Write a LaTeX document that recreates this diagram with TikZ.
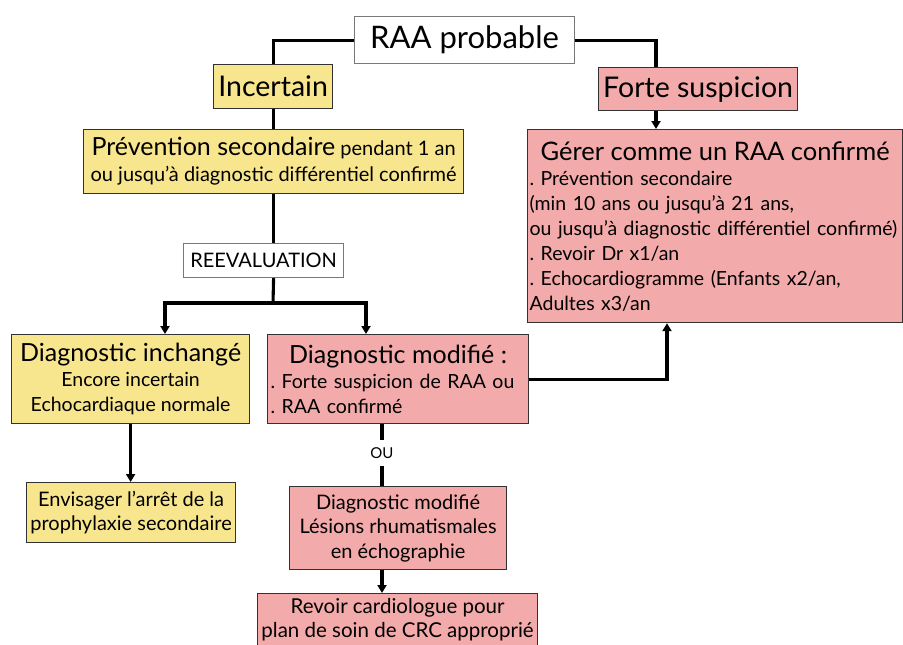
\documentclass[tikz,border=0pt]{standalone}
\usepackage{fontspec}
\setmainfont{Lato}
\usetikzlibrary{arrows.meta}
\definecolor{ylw}{RGB}{248,230,142}
\definecolor{pnk}{RGB}{243,170,170}
\definecolor{bordc}{RGB}{50,50,50}
\definecolor{wbord}{RGB}{120,120,120}
\newcommand\fsz[2]{\fontsize{#1}{#2}\selectfont}
\frenchspacing
\begin{document}
\begin{tikzpicture}[x=1pt,y=-1pt,
  box/.style={draw=bordc, line width=1.2pt, inner sep=0pt, anchor=north west, text=black},
  ybox/.style={box, fill=ylw},
  pbox/.style={box, fill=pnk},
  wbox/.style={box, fill=white, draw=wbord},
  conn/.style={line width=3.1pt, draw=black},
  arr/.style={conn, -{Triangle[length=8pt,width=9pt]}},
]
\useasboundingbox (0,0) rectangle (903,645);
\clip (0,0) rectangle (903,645);

\node[wbox, minimum width=220pt, minimum height=47pt, font=\fsz{31}{33}] (raa) at (354,16) {RAA probable};
\node[ybox, minimum width=119pt, minimum height=44pt, font=\fsz{28.5}{30}] (inc) at (213,64) {Incertain};
\node[pbox, minimum width=199pt, minimum height=43pt, font=\fsz{28.5}{30}] (forte) at (598,67) {Forte suspicion};
\node[ybox, minimum width=380pt, minimum height=64pt, align=center, font=\fsz{20}{26}] (prev) at (83,129)
  {{\fsz{25}{26}Prévention secondaire} pendant 1 an\\ou jusqu’à diagnostic différentiel confirmé};
\node[wbox, minimum width=160pt, minimum height=34pt, font=\fsz{20}{22}] (reev) at (183,243) {REEVALUATION};
\node[pbox, minimum width=375pt, minimum height=193pt, align=left, text width=371pt, inner xsep=2pt, font=\fsz{19.5}{25}] (gerer) at (527,129)
  {{\centering\fsz{25.5}{28}Gérer comme un RAA confirmé\par}
   . Prévention secondaire\\
   (min 10 ans ou jusqu’à 21 ans,\\
   ou jusqu’à diagnostic différentiel confirmé)\\
   . Revoir Dr x1/an\\
   . Echocardiogramme (Enfants x2/an,\\
   Adultes x3/an};
\node[ybox, minimum width=238pt, minimum height=89pt, align=center, font=\fsz{19.5}{25}] (inch) at (11,334)
  {{\fsz{25}{26}Diagnostic inchangé}\\Encore incertain\\Echocardiaque normale};
\node[pbox, minimum width=261pt, minimum height=89pt, align=left, text width=255pt, inner xsep=3pt, font=\fsz{19.5}{25}] (modi) at (267,334)
  {{\centering\fsz{25}{26}Diagnostic modifié :\par}
   . Forte suspicion de RAA ou\\
   . RAA confirmé};
\node[ybox, minimum width=209pt, minimum height=60pt, align=center, font=\fsz{20}{24}] (env) at (26,482)
  {Envisager l’arrêt de la\\prophylaxie secondaire};
\node[pbox, minimum width=217pt, minimum height=83pt, align=center, font=\fsz{20}{24.5}] (modi2) at (289,486)
  {Diagnostic modifié\\Lésions rhumatismales\\en échographie};
\node[pbox, minimum width=280pt, minimum height=62pt, align=center, text depth=14pt, font=\fsz{20.5}{24}] (revoir) at (257,593)
  {Revoir cardiologue pour\\plan de soin de CRC approprié};
\node[font=\fsz{15}{16}, inner sep=0pt, minimum height=26pt] (ou) at (382,453) {OU};

\coordinate (fx) at (656,0);
\coordinate (gx) at (667,0);
\coordinate (mx) at (382,0);
\coordinate (lx) at (165,0);
\coordinate (rx) at (366,0);
\coordinate (split) at (273,303);

\draw[conn] (raa.west) -| (inc.north);
\draw[conn] (raa.east) -| (forte.north -| fx);
\draw[arr] (forte.south -| fx) -- (gerer.north -| fx);
\draw[conn] (inc.south) -- (inc.south |- prev.north);
\draw[conn] (prev.south) -- (prev.south |- reev.north);
\draw[conn] (prev.south |- reev.south) -- (split);
\draw[arr] (split) -| (inch.north -| lx);
\draw[arr] (split) -| (modi.north -| rx);
\draw[arr] (inch.south) -- (inch.south |- env.north);
\draw[arr] (modi.east) -| (gerer.south -| gx);
\draw[conn] (modi.south -| mx) -- (ou.north);
\draw[conn] (ou.south) -- (modi2.north -| mx);
\draw[arr] (modi2.south -| mx) -- (revoir.north -| mx);
\end{tikzpicture}
\end{document}
